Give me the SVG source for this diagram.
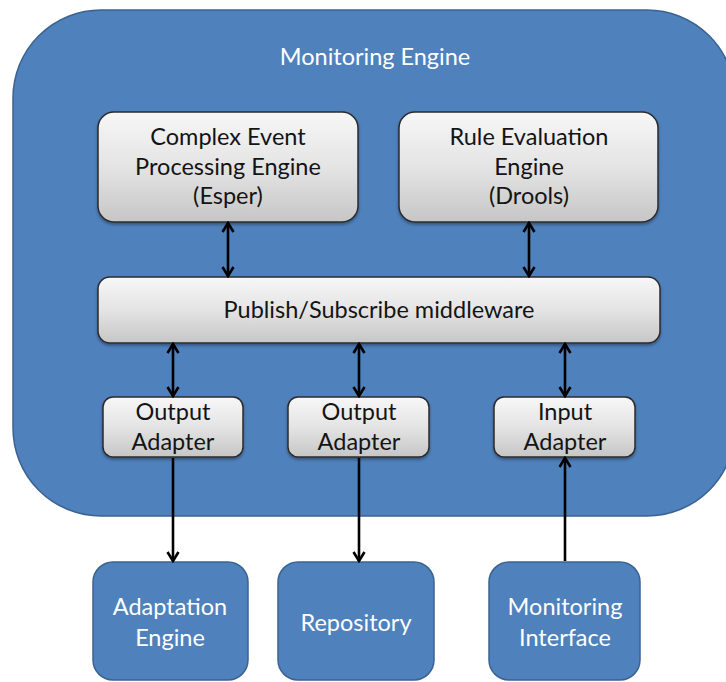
<svg xmlns="http://www.w3.org/2000/svg" width="726" height="682" viewBox="0 0 726 682">
  <defs>
    <linearGradient id="grayFill" x1="0" y1="0" x2="0" y2="1">
      <stop offset="0" stop-color="#f7f7f7"/>
      <stop offset="0.5" stop-color="#e4e4e4"/>
      <stop offset="1" stop-color="#c6c6c6"/>
    </linearGradient>
    <filter id="shadow" x="-10%" y="-10%" width="120%" height="130%">
      <feGaussianBlur in="SourceAlpha" stdDeviation="1.5"/>
      <feOffset dx="0" dy="2" result="b"/>
      <feComponentTransfer><feFuncA type="linear" slope="0.35"/></feComponentTransfer>
      <feMerge><feMergeNode/><feMergeNode in="SourceGraphic"/></feMerge>
    </filter>
    <marker id="head" viewBox="0 0 14 14" refX="12" refY="7" markerWidth="14" markerHeight="14" markerUnits="userSpaceOnUse" orient="auto-start-reverse">
      <path d="M3,1.5 L12,7 L3,12.5" fill="none" stroke="#000" stroke-width="2.6" stroke-linejoin="miter"/>
    </marker>
  </defs>
  <style>
    .blue { fill: #4f81bd; stroke: #3b6391; stroke-width: 1.5; }
    .gray { fill: url(#grayFill); stroke: #2b2b2b; stroke-width: 1.5; filter: url(#shadow); }
    .t { font-family: Lato, "Open Sans", "Liberation Sans", sans-serif; font-size: 23.5px; text-anchor: middle; }
    .w { fill: #ffffff; }
    .k { fill: #141414; }
    .arrow { stroke: #000; stroke-width: 2.6; fill: none; }
  </style>

  <rect width="726" height="682" fill="#ffffff"/>

  <!-- outer container -->
  <g id="monitoring-engine">
    <rect class="blue" x="13" y="10" width="722" height="506" rx="88" ry="88"/>
    <text class="t w" x="375" y="65">Monitoring Engine</text>
  </g>

  <g id="cep-engine">
    <rect class="gray" x="98" y="112" width="260" height="110" rx="16" ry="16"/>
    <text class="t k" x="228" y="145">Complex Event</text>
    <text class="t k" x="228" y="175">Processing Engine</text>
    <text class="t k" x="228" y="204">(Esper)</text>
  </g>

  <g id="rule-engine">
    <rect class="gray" x="399" y="112" width="259" height="110" rx="16" ry="16"/>
    <text class="t k" x="529" y="145">Rule Evaluation</text>
    <text class="t k" x="529" y="175">Engine</text>
    <text class="t k" x="529" y="204">(Drools)</text>
  </g>

  <g id="pubsub">
    <rect class="gray" x="98" y="277" width="562" height="66" rx="12" ry="12"/>
    <text class="t k" x="379" y="318">Publish/Subscribe middleware</text>
  </g>

  <g id="output-adapter-1">
    <rect class="gray" x="103" y="397" width="140" height="60" rx="10" ry="10"/>
    <text class="t k" x="173" y="420">Output</text>
    <text class="t k" x="173" y="450">Adapter</text>
  </g>

  <g id="output-adapter-2">
    <rect class="gray" x="288" y="397" width="141" height="60" rx="10" ry="10"/>
    <text class="t k" x="359" y="420">Output</text>
    <text class="t k" x="359" y="450">Adapter</text>
  </g>

  <g id="input-adapter">
    <rect class="gray" x="494" y="397" width="141" height="60" rx="10" ry="10"/>
    <text class="t k" x="565" y="420">Input</text>
    <text class="t k" x="565" y="450">Adapter</text>
  </g>

  <g id="adaptation-engine">
    <rect class="blue" x="93" y="562" width="155" height="118" rx="20" ry="20"/>
    <text class="t w" x="170" y="615">Adaptation</text>
    <text class="t w" x="170" y="646">Engine</text>
  </g>

  <g id="repository">
    <rect class="blue" x="278" y="562" width="156" height="118" rx="20" ry="20"/>
    <text class="t w" x="356" y="631">Repository</text>
  </g>

  <g id="monitoring-interface">
    <rect class="blue" x="489" y="562" width="151" height="118" rx="20" ry="20"/>
    <text class="t w" x="565" y="615">Monitoring</text>
    <text class="t w" x="565" y="646">Interface</text>
  </g>

  <!-- connectors -->
  <g id="connectors">
    <line class="arrow" x1="228" y1="223" x2="228" y2="276" marker-start="url(#head)" marker-end="url(#head)"/>
    <line class="arrow" x1="529" y1="223" x2="529" y2="276" marker-start="url(#head)" marker-end="url(#head)"/>
    <line class="arrow" x1="173" y1="344" x2="173" y2="396" marker-start="url(#head)" marker-end="url(#head)"/>
    <line class="arrow" x1="359" y1="344" x2="359" y2="396" marker-start="url(#head)" marker-end="url(#head)"/>
    <line class="arrow" x1="565" y1="344" x2="565" y2="396" marker-start="url(#head)" marker-end="url(#head)"/>
    <line class="arrow" x1="173" y1="458" x2="173" y2="561" marker-end="url(#head)"/>
    <line class="arrow" x1="359" y1="458" x2="359" y2="561" marker-end="url(#head)"/>
    <line class="arrow" x1="565" y1="561" x2="565" y2="458" marker-end="url(#head)"/>
  </g>
</svg>
